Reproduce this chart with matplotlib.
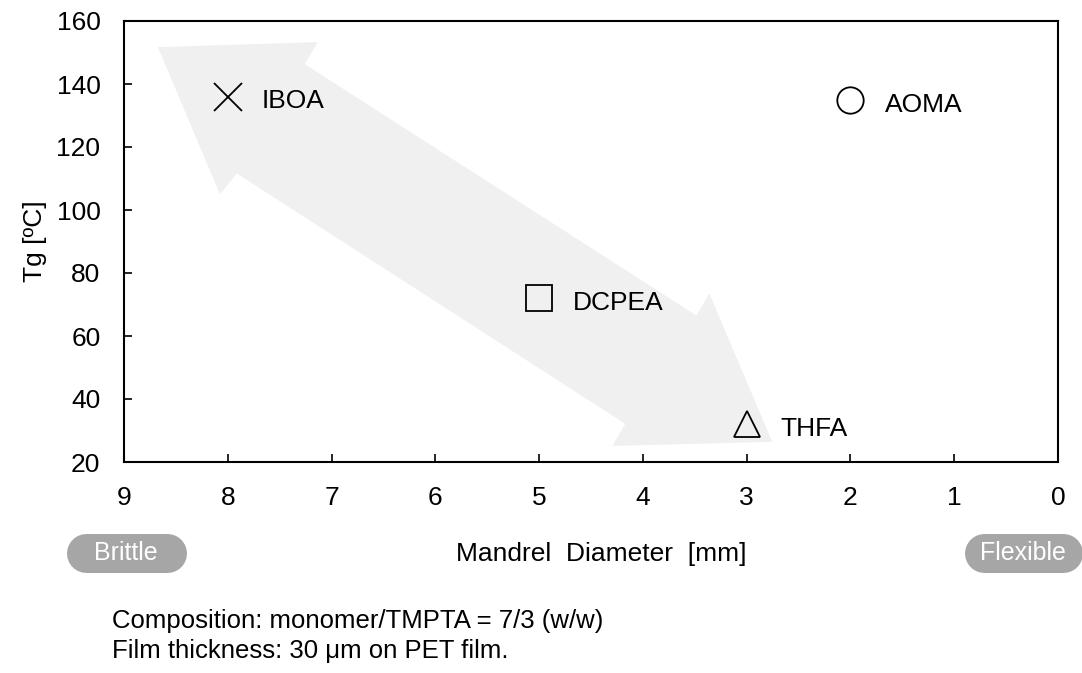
import matplotlib.pyplot as plt
from matplotlib.patches import Polygon
from matplotlib.lines import Line2D
from matplotlib.transforms import IdentityTransform

plt.rcParams['font.family'] = ['Liberation Sans', 'DejaVu Sans']

# monomers: mandrel diameter [mm] vs Tg [ºC]
names = ["IBOA", "AOMA", "DCPEA", "THFA"]
diameter = [8, 2, 5, 3]
tg = [136, 135, 72, 32]
markers = ["x", "o", "s", "^"]

xticks = [9, 8, 7, 6, 5, 4, 3, 2, 1, 0]
yticks = [20, 40, 60, 80, 100, 120, 140, 160]

W, H = 1082, 673
fig = plt.figure(figsize=(W / 100, H / 100), dpi=100)
ax = fig.add_axes([124 / W, 1 - 462 / H, 934 / W, 441 / H])

# fat double-headed arrow in background (data coords)
arrow = [(8.673, 151.7), (7.133, 153.3), (7.258, 146.3), (3.485, 66.5),
         (3.360, 73.5), (2.754, 26.4), (4.294, 25.1), (4.169, 32.1),
         (7.913, 111.6), (8.076, 105.0)]
ax.add_patch(Polygon(arrow, closed=True, facecolor="#f0f0f0", edgecolor="none", zorder=0))

for n, x, y, m in zip(names, diameter, tg, markers):
    if m == "x":
        ax.plot(x, y, m, ms=20, mew=1.3, color="black")
    else:
        ax.plot(x, y, m, ms=19, mfc="none", mec="black", mew=1.3)
    ax.annotate(n, (x, y), xytext=(24.5, -3.5), textcoords="offset points",
                fontsize=19, va="center", ha="left")

ax.set_xlim(9, 0)
ax.set_ylim(20, 160)
ax.set_xticks(xticks)
ax.set_yticks(yticks)
ax.tick_params(direction="in", length=6, width=1.2, labelsize=19, pad=17)
for s in ax.spines.values():
    s.set_linewidth(1.5)

ax.set_xlabel("Mandrel  Diameter  [mm]", fontsize=19)
ax.xaxis.set_label_coords(0.5107, -0.181)
ax.set_ylabel("Tg [ºC]", fontsize=19, labelpad=7)

# Brittle / Flexible badges: thick line with round caps = stadium (pixel coords)
gray = "#a6a6a6"
r = 19.5
yc = H - 553
for x0, w, txt in [(66, 120, "Brittle"), (964, 118, "Flexible")]:
    fig.add_artist(Line2D([x0 + r, x0 + w - r], [yc, yc], transform=IdentityTransform(),
                          color=gray, lw=2 * r * 72 / 100, solid_capstyle="round"))
    fig.text((x0 + w / 2) / W, 1 - 553 / H, txt, color="white", fontsize=18,
             ha="center", va="center")

fig.text(112 / W, 1 - 628 / H, "Composition: monomer/TMPTA = 7/3 (w/w)",
         fontsize=18.5, va="baseline")
fig.text(112 / W, 1 - 658 / H, "Film thickness: 30 μm on PET film.",
         fontsize=18.5, va="baseline")

fig.savefig("out.png", dpi=100)
